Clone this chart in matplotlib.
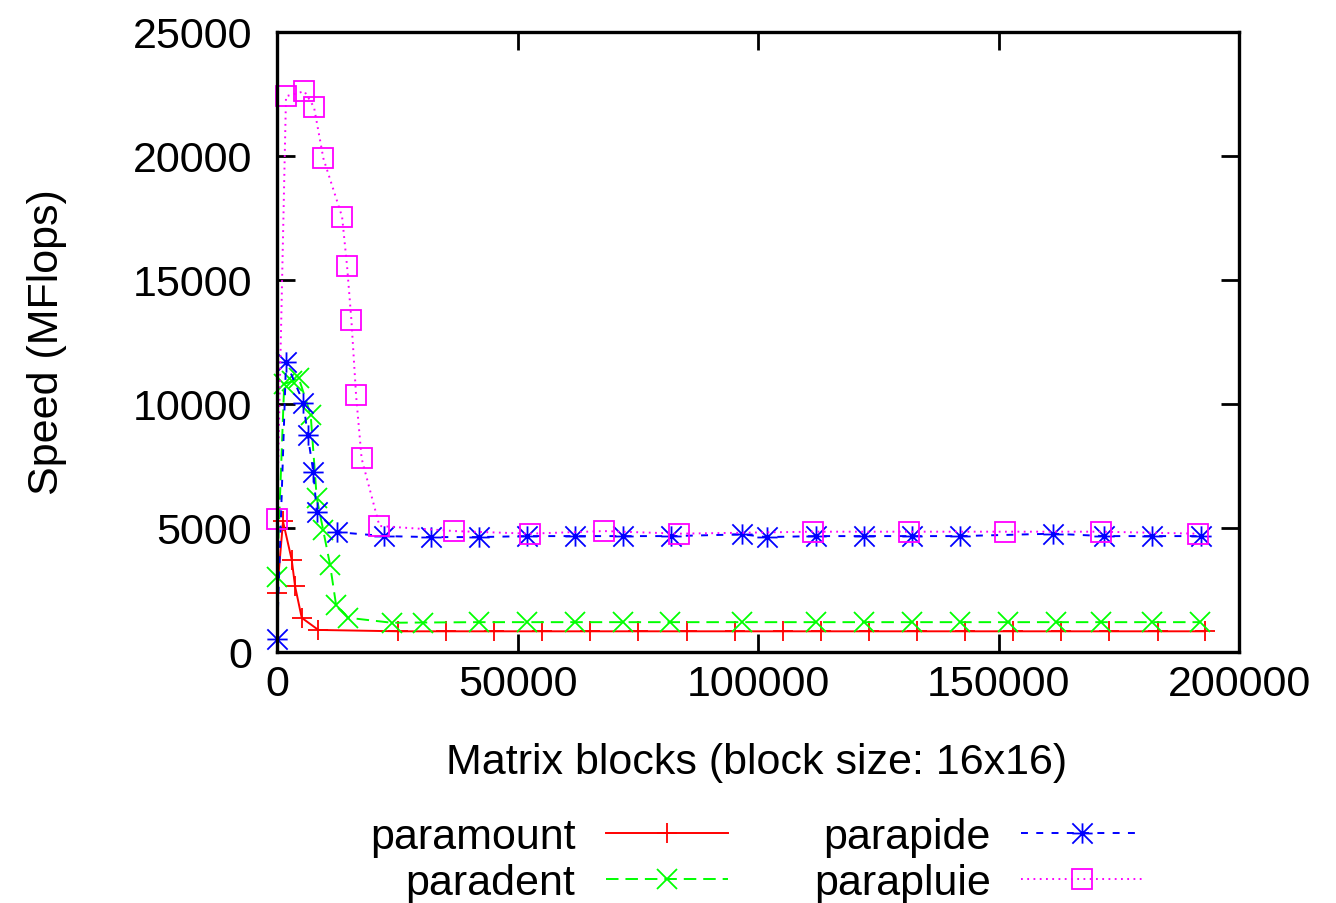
import matplotlib
matplotlib.use("Agg")
import matplotlib.pyplot as plt
from matplotlib.path import Path

plt.rcParams['font.family'] = ['Liberation Sans', 'DejaVu Sans']
plt.rcParams['lines.scale_dashes'] = False

# data
paramount_x = [0, 1250, 3060, 3750, 5140, 8600, 25180, 35170, 45160, 55150, 65140,
               75130, 85330, 95320, 105300, 113000, 123000, 133000, 143000, 153000,
               163000, 172900, 183100, 192900]
paramount_y = [2370, 5250, 3700, 2640, 1360, 870, 815, 815, 815, 815, 815,
               815, 815, 815, 815, 815, 815, 815, 815, 815,
               815, 815, 815, 815]

paradent_x = [0, 1500, 3100, 4500, 7000, 8260, 9600, 11030, 12280, 14840, 23870,
              30320, 41900, 51970, 61880, 71940, 81800, 96700, 111970, 122000,
              131950, 142000, 152070, 161900, 171270, 181900, 191950]
paradent_y = [2990, 10800, 10900, 11050, 9550, 6200, 4900, 3500, 1880, 1360, 1160,
              1170, 1184, 1184, 1184, 1184, 1184, 1184, 1184, 1184,
              1184, 1184, 1184, 1184, 1184, 1184, 1184]

parapide_x = [0, 1873, 5480, 6380, 7560, 8260, 12420, 22330, 32050, 41900, 51970,
              61880, 71940, 82000, 96700, 101900, 111970, 122000, 132100, 142000,
              161360, 171970, 182000, 192100]
parapide_y = [485, 11684, 10044, 8736, 7243, 5627, 4819, 4657, 4617, 4617, 4657,
              4657, 4657, 4657, 4726, 4617, 4657, 4657, 4657, 4657,
              4755, 4657, 4657, 4657]

parapluie_x = [0, 1873, 5690, 7700, 9640, 13530, 14570, 15470, 16440, 17590, 21300,
               36900, 52500, 68000, 83600, 111400, 131400, 151400, 171400, 191400]
parapluie_y = [5331, 22407, 22609, 21963, 19900, 17545, 15541, 13360, 10340, 7790, 5064,
               4860, 4755, 4860, 4755, 4835, 4835, 4835, 4835, 4755]

x_ticks = [0, 50000, 100000, 150000, 200000]
y_ticks = [0, 5000, 10000, 15000, 20000, 25000]

# gnuplot style asterisk: + and x on top of each other
star = Path([(-1, 0), (1, 0), (0, -1), (0, 1), (-1, -1), (1, 1), (-1, 1), (1, -1)],
            [Path.MOVETO, Path.LINETO] * 4)

W, H = 1336, 904
fig = plt.figure(figsize=(W / 100, H / 100), dpi=100)
ax = fig.add_axes([277 / W, 1 - 652.5 / H, (1239 - 277) / W, (652.5 - 33) / H])

ms = 14.6
mew = 1.3
lw = 1.4
l1, = ax.plot(paramount_x, paramount_y, color='#ff0000', lw=lw, ls='-',
              marker='+', ms=ms, mew=mew, clip_on=False, label='paramount')
l2, = ax.plot(paradent_x, paradent_y, color='#00ff00', lw=lw, dashes=(9, 5),
              marker='x', ms=ms, mew=mew, clip_on=False, label='paradent')
l3, = ax.plot(parapide_x, parapide_y, color='#0000ff', lw=lw, dashes=(5, 6),
              marker=star, ms=ms, mew=mew, mfc='none', clip_on=False, label='parapide')
l4, = ax.plot(parapluie_x, parapluie_y, color='#ff00ff', lw=lw, dashes=(1.3, 3.2),
              marker='s', ms=ms, mew=mew, mfc='none', clip_on=False, label='parapluie')

ax.set_xlim(0, 200000)
ax.set_ylim(0, 25000)
ax.set_xticks(x_ticks)
ax.set_yticks(y_ticks)
ax.tick_params(direction='in', length=13, width=2, labelsize=31,
               top=True, right=True)
ax.tick_params(axis='x', pad=9)
ax.tick_params(axis='y', pad=18)
for s in ax.spines.values():
    s.set_linewidth(2.4)

fig.text(757 / W, 1 - 763 / H, 'Matrix blocks (block size: 16x16)', fontsize=31,
         ha='center', va='center')
fig.text(47 / W, 1 - 342 / H, 'Speed (MFlops)', fontsize=31, rotation=90,
         ha='center', va='center')

fig.legend(handles=[l1, l2, l3, l4], ncol=2, loc='center',
           bbox_to_anchor=(756.5 / W, 1 - 861 / H), frameon=False,
           fontsize=31, markerfirst=False, handlelength=2.84, handletextpad=0.7,
           columnspacing=2.0, labelspacing=0.12, borderpad=0, borderaxespad=0)

fig.savefig('out.png', dpi=100)
